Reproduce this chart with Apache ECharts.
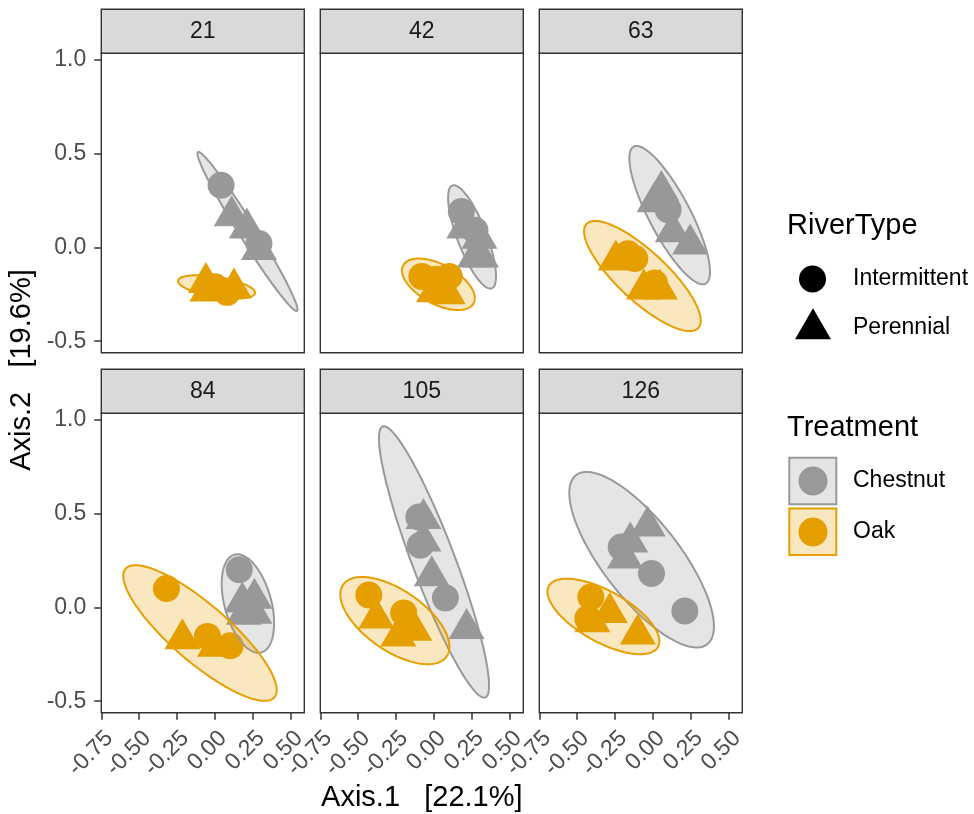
<!DOCTYPE html>
<html>
<head>
<meta charset="utf-8">
<script src="https://cdn.jsdelivr.net/npm/echarts@6/dist/echarts.min.js"></script>
<style>
  html, body { margin: 0; padding: 0; background: #fff; }
  #chart { width: 974px; height: 814px; }
</style>
</head>
<body>
<div id="chart"></div>
<script>
// facet labels (sampling day)
var days = ['21', '42', '63', '84', '105', '126'];

// ordination scores [Axis.1, Axis.2], one list per day
var chestnutIntermittent = [
  [[0.04, 0.33], [0.29, 0.02]],
  [[0.18, 0.19], [0.27, 0.09]],
  [[0.10, 0.20]],
  [[0.16, 0.20]],
  [[-0.10, 0.48], [-0.09, 0.33], [0.075, 0.05]],
  [[-0.21, 0.32], [-0.01, 0.18], [0.21, -0.02]]
];
var chestnutPerennial = [
  [[0.11, 0.165], [0.21, 0.10], [0.29, -0.015]],
  [[0.20, 0.10], [0.30, 0.045], [0.27, -0.055], [0.31, -0.055]],
  [[0.055, 0.30], [0.01, 0.24], [0.13, 0.08], [0.245, 0.015]],
  [[0.18, 0.025], [0.26, 0.045], [0.19, -0.04], [0.26, -0.035]],
  [[-0.07, 0.47], [-0.07, 0.35], [-0.015, 0.165], [0.215, -0.115]],
  [[-0.035, 0.43], [-0.15, 0.345], [-0.185, 0.26]]
];
var oakIntermittent = [
  [[0.08, -0.24], [0.0, -0.21]],
  [[-0.08, -0.155], [0.10, -0.155], [0.01, -0.17]],
  [[-0.12, -0.06], [-0.165, -0.035], [0.01, -0.19]],
  [[-0.32, 0.10], [-0.05, -0.155], [0.10, -0.205]],
  [[-0.43, 0.065], [-0.20, -0.03]],
  [[-0.41, 0.055], [-0.43, -0.06]]
];
var oakPerennial = [
  [[-0.06, -0.19], [0.125, -0.22], [-0.05, -0.235]],
  [[0.0, -0.24], [0.09, -0.25]],
  [[-0.245, -0.07], [-0.06, -0.225], [0.045, -0.225]],
  [[-0.215, -0.17], [0.0, -0.21]],
  [[-0.38, -0.06], [-0.235, -0.155], [-0.13, -0.125]],
  [[-0.285, -0.03], [-0.40, -0.08], [-0.10, -0.145]]
];

// ellipse per day: [centre x, centre y, half width, half height, correlation]
var chestnutEllipse = [
  [0.214, 0.084, 0.33, 0.423, -0.98],
  [0.251, 0.055, 0.158, 0.275, -0.76],
  [0.11, 0.171, 0.266, 0.368, -0.82],
  [0.217, 0.02, 0.173, 0.262, -0.4],
  [0.0, 0.241, 0.363, 0.722, -0.91],
  [-0.075, 0.253, 0.477, 0.467, -0.76]
];
var oakEllipse = [
  [0.01, -0.211, 0.254, 0.062, -0.5],
  [0.029, -0.197, 0.24, 0.137, -0.54],
  [-0.07, -0.153, 0.385, 0.293, -0.81],
  [-0.099, -0.137, 0.506, 0.361, -0.84],
  [-0.258, -0.071, 0.36, 0.232, -0.6],
  [-0.327, -0.049, 0.369, 0.201, -0.655]
];

var xTicks = [-0.75, -0.5, -0.25, 0, 0.25, 0.5];
var yTicks = [-0.5, 0, 0.5, 1];

var GREY = '#999999', ORANGE = '#E69F00';
var FONT = 'Liberation Sans, Arial, sans-serif';
var colLeft = [101.3, 320.3, 539.3];
var rowTop = [53.3, 413.3];
var panelW = 203, panelH = 299.4, stripH = 44;

function ellipseRenderer(stroke, fill) {
  return function (params, api) {
    var cx = api.value(0), cy = api.value(1);
    var sx = api.value(2), sy = api.value(3), r = api.value(4);
    var q = Math.sqrt(1 - r * r);
    var pts = [];
    for (var k = 0; k < 180; k++) {
      var t = Math.PI * 2 * k / 180;
      pts.push(api.coord([cx + sx * Math.cos(t), cy + sy * (r * Math.cos(t) + q * Math.sin(t))]));
    }
    return {
      type: 'polygon',
      shape: { points: pts },
      style: { fill: fill, stroke: stroke, lineWidth: 2 }
    };
  };
}

var grids = [], xAxes = [], yAxes = [], series = [], graphics = [];

days.forEach(function (day, i) {
  var col = i % 3, row = Math.floor(i / 3);
  var bottomRow = row === 1, leftCol = col === 0;

  grids.push({
    left: colLeft[col], top: rowTop[row], width: panelW, height: panelH,
    containLabel: false, outerBoundsMode: 'none',
    show: true, backgroundColor: '#fff', borderColor: '#333333', borderWidth: 1.4
  });

  xAxes.push({
    gridIndex: i, type: 'value', min: -0.75, max: 0.589, position: 'bottom',
    axisLine: { show: false, onZero: false },
    splitLine: { show: false },
    axisTick: {
      show: bottomRow, length: 7, customValues: xTicks,
      lineStyle: { color: '#333333', width: 1.5 }
    },
    axisLabel: {
      show: bottomRow, customValues: xTicks, interval: 0,
      rotate: 45, margin: 14, align: 'right', verticalAlign: 'top',
      color: '#4D4D4D', fontSize: 23, fontFamily: FONT,
      formatter: function (v) { return v.toFixed(2); }
    }
  });

  yAxes.push({
    gridIndex: i, type: 'value', min: -0.561, max: 1.032, position: 'left',
    axisLine: { show: false, onZero: false },
    splitLine: { show: false },
    axisTick: {
      show: leftCol, length: 7, customValues: yTicks,
      lineStyle: { color: '#333333', width: 1.5 }
    },
    axisLabel: {
      show: leftCol, customValues: yTicks, margin: 15,
      color: '#4D4D4D', fontSize: 23, fontFamily: FONT,
      formatter: function (v) { return v.toFixed(1); }
    }
  });

  var groups = [
    [chestnutIntermittent, 'circle', GREY],
    [chestnutPerennial, 'triangle', GREY],
    [oakIntermittent, 'circle', ORANGE],
    [oakPerennial, 'triangle', ORANGE]
  ];
  groups.forEach(function (g) {
    var tri = g[1] === 'triangle';
    series.push({
      type: 'scatter', xAxisIndex: i, yAxisIndex: i, silent: true, z: 2,
      symbol: g[1],
      symbolSize: tri ? [36, 31] : 27,
      symbolOffset: tri ? [0, -5.5] : [0, 0],
      itemStyle: { color: g[2], opacity: 1 },
      data: g[0][i]
    });
  });

  series.push({
    type: 'custom', xAxisIndex: i, yAxisIndex: i, silent: true, z: 3,
    renderItem: ellipseRenderer(GREY, 'rgba(153,153,153,0.25)'),
    encode: { x: 0, y: 1 },
    data: [chestnutEllipse[i]]
  });
  series.push({
    type: 'custom', xAxisIndex: i, yAxisIndex: i, silent: true, z: 4,
    renderItem: ellipseRenderer(ORANGE, 'rgba(230,159,0,0.25)'),
    encode: { x: 0, y: 1 },
    data: [oakEllipse[i]]
  });

  // facet strip
  graphics.push({
    type: 'rect', silent: true, z: 10,
    shape: { x: colLeft[col], y: rowTop[row] - stripH, width: panelW, height: stripH },
    style: { fill: '#D9D9D9', stroke: '#333333', lineWidth: 1.4 }
  });
  graphics.push({
    type: 'text', silent: true, z: 11,
    style: {
      text: day, x: colLeft[col] + panelW / 2, y: rowTop[row] - stripH / 2,
      textAlign: 'center', textVerticalAlign: 'middle',
      font: '23px ' + FONT, fill: '#1A1A1A'
    }
  });
});

// axis titles
graphics.push({
  type: 'text', silent: true,
  style: {
    text: 'Axis.1   [22.1%]', x: 421.8, y: 798,
    textAlign: 'center', textVerticalAlign: 'middle',
    font: '29px ' + FONT, fill: '#000'
  }
});
graphics.push({
  type: 'text', silent: true, x: 22, y: 370, rotation: Math.PI / 2,
  style: {
    text: 'Axis.2   [19.6%]', x: 0, y: 0,
    textAlign: 'center', textVerticalAlign: 'middle',
    font: '29px ' + FONT, fill: '#000'
  }
});

// legends
function legendText(t, x, y, size) {
  graphics.push({
    type: 'text', silent: true,
    style: {
      text: t, x: x, y: y, textAlign: 'left', textVerticalAlign: 'middle',
      font: size + 'px ' + FONT, fill: '#000'
    }
  });
}
legendText('RiverType', 787, 226, 29);
graphics.push({ type: 'circle', silent: true, shape: { cx: 812.5, cy: 279, r: 13.5 }, style: { fill: '#000' } });
legendText('Intermittent', 853, 279, 23);
graphics.push({
  type: 'polygon', silent: true,
  shape: { points: [[813, 308.3], [831, 339.3], [795, 339.3]] },
  style: { fill: '#000' }
});
legendText('Perennial', 853, 328, 23);

legendText('Treatment', 787, 428, 29);
graphics.push({
  type: 'rect', silent: true, shape: { x: 789.3, y: 457.7, width: 47, height: 46.5 },
  style: { fill: 'rgba(153,153,153,0.25)', stroke: GREY, lineWidth: 2 }
});
graphics.push({ type: 'circle', silent: true, shape: { cx: 813, cy: 481, r: 14.5 }, style: { fill: GREY } });
legendText('Chestnut', 853, 481, 23);
graphics.push({
  type: 'rect', silent: true, shape: { x: 789.3, y: 508.5, width: 47, height: 46.5 },
  style: { fill: 'rgba(230,159,0,0.25)', stroke: ORANGE, lineWidth: 2 }
});
graphics.push({ type: 'circle', silent: true, shape: { cx: 813, cy: 532, r: 14.5 }, style: { fill: ORANGE } });
legendText('Oak', 853, 532, 23);

var chart = echarts.init(document.getElementById('chart'));
chart.setOption({
  animation: false,
  backgroundColor: '#fff',
  grid: grids,
  xAxis: xAxes,
  yAxis: yAxes,
  series: series,
  graphic: graphics
});
</script>
</body>
</html>
